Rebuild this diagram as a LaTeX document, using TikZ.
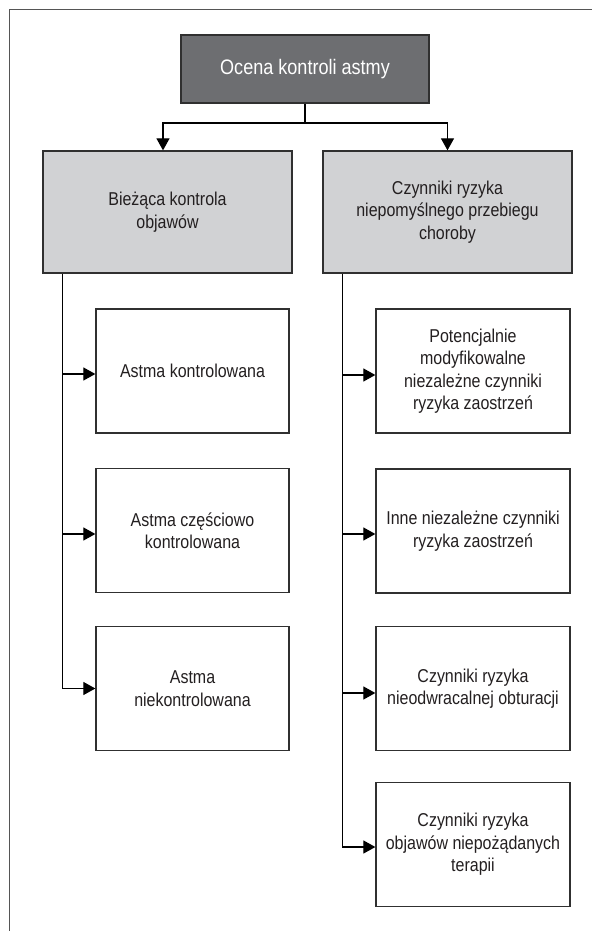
\documentclass[tikz,border=0pt]{standalone}
\usepackage{fontspec}
\setmainfont{Liberation Sans}[FakeStretch=0.86]
\usetikzlibrary{arrows.meta}
\definecolor{topfill}{HTML}{6D6E71}
\definecolor{grayfill}{HTML}{D1D2D4}
\definecolor{edgecol}{HTML}{303030}
\definecolor{txt}{HTML}{231F20}
\definecolor{framecol}{HTML}{555555}
\tikzset{
 box/.style={draw=edgecol, line width=1.3pt, rectangle, align=center, text=txt, font=\fontsize{18.6}{22.5}\selectfont, inner sep=0pt},
 topbox/.style={box, fill=topfill, text=white, font=\fontsize{21}{25}\selectfont, minimum width=248pt, minimum height=68pt},
 headbox/.style={box, fill=grayfill, minimum width=249pt, minimum height=122pt},
 leafL/.style={box, fill=white, minimum width=193pt, minimum height=124pt},
 leafR/.style={box, fill=white, minimum width=194pt, minimum height=124pt},
 conn/.style={line width=1.2pt, draw=black},
 arr/.style={conn, -{Triangle[length=12pt,width=13pt]}},
 framestyle/.style={draw=framecol, line width=1.6pt},
}
\begin{document}
\begin{tikzpicture}[x=1pt,y=-1pt]
\useasboundingbox (0,0) rectangle (592,931);
\draw[framestyle] (9.5,931) -- (9.5,9.5) -- (592,9.5);

\node[topbox] (top) at (305,69) {Ocena kontroli astmy};
\node[headbox] (lg) at (167.5,212) {Bieżąca kontrola\\objawów};
\node[headbox] (rg) at (447.5,212) {Czynniki ryzyka\\niepomyślnego przebiegu\\choroby};
\node[leafL] (l1) at (192.5,371) {Astma kontrolowana};
\node[leafL] (l2) at (192.5,530.5) {Astma częściowo\\kontrolowana};
\node[leafL] (l3) at (192.5,688.5) {Astma\\niekontrolowana};
\node[leafR] (r1) at (473,371) {Potencjalnie\\modyfikowalne\\niezależne czynniki\\ryzyka zaostrzeń};
\node[leafR] (r2) at (473,531) {Inne niezależne czynniki\\ryzyka zaostrzeń};
\node[leafR] (r3) at (473,688.5) {Czynniki ryzyka\\nieodwracalnej obturacji};
\node[leafR] (r4) at (473,844.5) {Czynniki ryzyka\\objawów niepożądanych\\terapii};

\coordinate (j) at (305,123);
\draw[conn] (top.south) -- (j);
\draw[arr] (j) -| ([xshift=-4.5pt]lg.north);
\draw[arr] (j) -| (rg.north);

\coordinate (tl) at ([xshift=20pt]lg.south west);
\coordinate (a1) at ([yshift=-3pt]l1.west);
\coordinate (a2) at ([yshift=-3.5pt]l2.west);
\draw[arr] (tl) |- (l3.west);
\draw[arr] (tl |- a1) -- (a1);
\draw[arr] (tl |- a2) -- (a2);

\coordinate (tr) at ([xshift=20pt]rg.south west);
\coordinate (b1) at ([yshift=-4pt]r1.west);
\coordinate (b2) at ([yshift=-3pt]r2.west);
\coordinate (b3) at ([yshift=-4.5pt]r3.west);
\coordinate (b4) at ([yshift=-2.5pt]r4.west);
\draw[arr] (tr) |- (b4);
\draw[arr] (tr |- b1) -- (b1);
\draw[arr] (tr |- b2) -- (b2);
\draw[arr] (tr |- b3) -- (b3);
\end{tikzpicture}
\end{document}
